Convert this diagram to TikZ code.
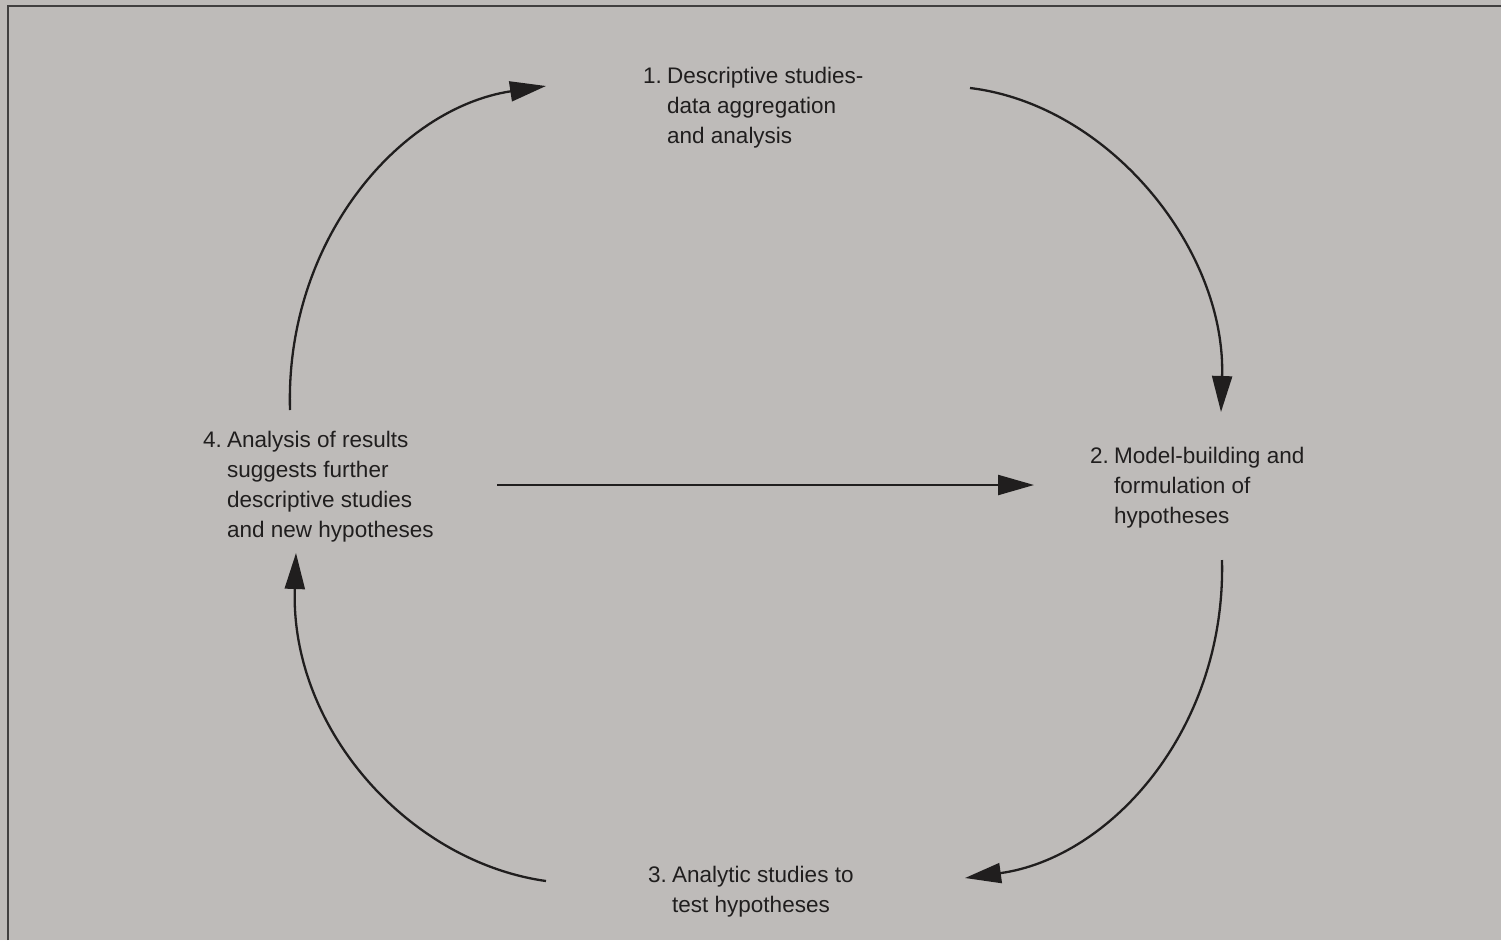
\documentclass[tikz,border=0pt]{standalone}
\usepackage{fontspec}
\setmainfont{Liberation Sans}
\usetikzlibrary{arrows.meta}
\definecolor{paper}{RGB}{190,187,185}
\definecolor{ink}{RGB}{32,30,30}
\tikzset{
  lbl/.style={anchor=base west, inner sep=0pt, text=ink, font=\fontsize{22.5}{30}\selectfont},
  cyc/.style={draw=ink, line width=2.3pt, -{Triangle[length=36pt,width=20pt]}},
  frameline/.style={draw=ink!85, line width=2.5pt}
}
\newcommand{\steplabel}[2]{\begin{tabular}[t]{@{}p{24pt}@{}l@{}}#1 & #2\end{tabular}}
\begin{document}
\begin{tikzpicture}[x=1pt,y=-1pt]
\useasboundingbox (0,0) rectangle (1501,940);
\fill[paper] (0,0) rectangle (1501,940);
\draw[frameline] (8,940) -- (8,6) -- (1501,6);

\node[lbl] (s1) at (643,83) {\steplabel{1.}{Descriptive studies-\\ & data aggregation\\ & and analysis}};
\node[lbl] (s2) at (1090,463) {\steplabel{2.}{Model-building and\\ & formulation of\\ & hypotheses}};
\node[lbl] (s3) at (648,882) {\steplabel{3.}{Analytic studies to\\ & test hypotheses}};
\node[lbl] (s4) at (203,447) {\steplabel{4.}{Analysis of results\\ & suggests further\\ & descriptive studies\\ & and new hypotheses}};

\coordinate (a1s) at (290,410);
\coordinate (a1e) at (546,86);
\coordinate (a2s) at (970,88);
\coordinate (a2e) at (1221,412);
\coordinate (a3s) at (1222,560);
\coordinate (a3e) at (965,878);
\coordinate (a4s) at (546,881);
\coordinate (a4e) at (296,553);
\coordinate (hs) at (497,485);
\coordinate (he) at (1034,485);

\draw[cyc] (a1s) .. controls (285,240) and (400,108) .. (a1e);
\draw[cyc] (a2s) .. controls (1110,105) and (1226,250) .. (a2e);
\draw[cyc] (a3s) .. controls (1226,730) and (1110,858) .. (a3e);
\draw[cyc] (a4s) .. controls (410,862) and (290,730) .. (a4e);
\draw[cyc] (hs) -- (he);
\end{tikzpicture}
\end{document}
